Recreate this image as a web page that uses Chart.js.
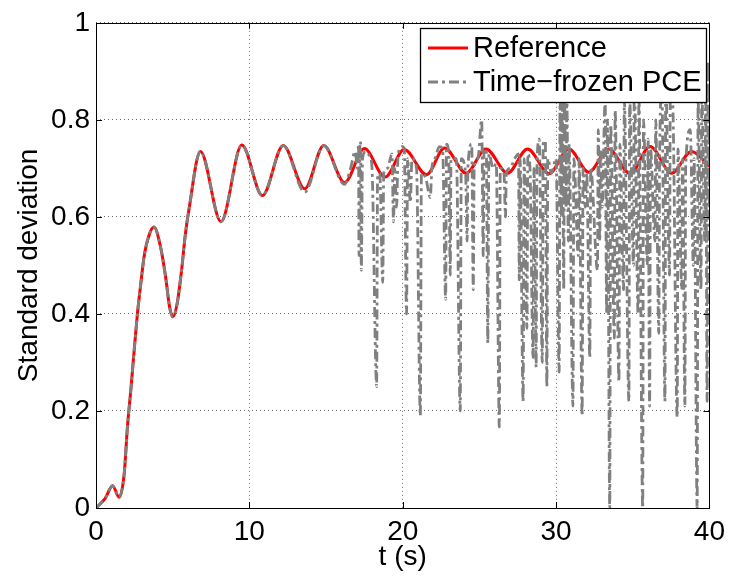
<!DOCTYPE html>
<html><head><meta charset="utf-8">
<script src="https://cdn.jsdelivr.net/npm/chart.js@4.4.0/dist/chart.umd.min.js"></script>
<style>html,body{margin:0;padding:0;background:#fff;}#wrap{width:732px;height:576px;}</style>
</head><body><div id="wrap"><canvas id="c" width="732" height="576"></canvas></div>
<script>
// ---- data ----
const xTickValues = [0, 10, 20, 30, 40];
const yTickValues = [0, 0.2, 0.4, 0.6, 0.8, 1];
const seriesNames = ['Reference', 'Time\u2212frozen PCE'];
const axisTitles = ['t (s)', 'Standard deviation'];

const refT = [0, 0.6, 1.08, 1.51, 1.84, 2.05, 2.27, 2.49, 2.70, 2.92, 3.13, 3.46, 3.78, 4.21, 4.54, 4.80, 5.01, 5.29, 5.58, 5.83, 6.05, 6.81, 8.15, 9.51, 10.85, 12.21, 13.61, 14.85, 16.21, 17.5, 18.85, 20.1, 21.55, 22.73, 24.14, 25.43, 26.84, 28.14, 29.54, 30.84, 32.13, 33.43, 34.83, 36.13, 37.54, 38.83, 40];
const refV = [0, 0.02, 0.046, 0.022, 0.071, 0.167, 0.243, 0.325, 0.40, 0.462, 0.517, 0.562, 0.579, 0.538, 0.476, 0.414, 0.394, 0.421, 0.49, 0.565, 0.613, 0.735, 0.59, 0.748, 0.644, 0.747, 0.658, 0.747, 0.671, 0.741, 0.682, 0.739, 0.687, 0.742, 0.69, 0.740, 0.69, 0.740, 0.689, 0.74, 0.692, 0.74, 0.689, 0.745, 0.69, 0.735, 0.704];

const pceT = [
  0, 0.6, 1.08, 1.51, 1.84, 2.05, 2.27, 2.49, 2.70, 2.92, 3.13, 3.46, 3.78, 4.21, 4.54, 4.80, 5.01, 5.29, 5.58, 5.83, 6.05, 6.81, 8.15, 9.51, 10.85, 12.21, 13.61, 14.85, 16.21,
  16.6, 16.9, 17.05, 17.12, 17.15, 17.2, 17.25, 17.3, 17.38, 17.6, 17.9, 18.0, 18.3, 18.36, 18.5, 18.7, 18.76, 19.0, 19.3, 19.4, 19.48, 19.6, 19.7, 20.0, 20.1, 20.25, 20.32, 20.5, 20.6,
  20.9, 21.15, 21.22, 21.5, 21.8, 21.9, 22.1, 22.4, 22.6, 22.8, 22.86, 23.0, 23.1, 23.15, 23.5, 23.75, 23.82, 24.1, 24.2, 24.25, 24.5, 24.6, 24.66, 24.9,
  25.15, 25.25, 25.3, 25.45, 25.55, 25.62, 25.9, 26.1, 26.3, 26.36, 26.6, 26.7, 26.76, 27.0, 27.3, 27.55, 27.6, 27.65, 27.85, 27.92, 28.1, 28.16, 28.3, 28.5, 28.56, 28.7, 28.75, 28.9, 29.1, 29.16, 29.3, 29.4, 29.46, 29.7,
  30.0, 30.2, 30.26, 30.35, 30.4, 30.5, 30.55, 30.65, 30.7, 30.8, 30.85, 31.1, 31.16, 31.45, 31.5, 31.7, 31.76, 31.9, 32.0, 32.2, 32.26, 32.7, 32.75, 32.85, 32.9, 33.0,
  33.2, 33.3, 33.35, 33.5, 33.56, 33.8, 33.85, 34.1, 34.16, 34.4, 34.45, 34.75, 34.8, 35.05, 35.1, 35.35, 35.4, 35.65, 35.7, 35.95, 36.0,
  36.1, 36.16, 36.45, 36.5, 36.7, 36.75, 36.9, 37.1, 37.15, 37.4, 37.45, 37.6, 37.9, 37.95, 38.2, 38.25, 38.4, 38.45, 38.75, 38.95, 39.0, 39.2, 39.26, 39.45, 39.5, 39.7, 39.75, 39.85, 39.92, 40
];
const pceV = [
  0, 0.02, 0.046, 0.022, 0.071, 0.167, 0.243, 0.325, 0.40, 0.462, 0.517, 0.562, 0.579, 0.538, 0.476, 0.414, 0.394, 0.421, 0.49, 0.565, 0.613, 0.735, 0.59, 0.748, 0.644, 0.747, 0.651, 0.747, 0.667,
  0.70, 0.735, 0.70, 0.75, 0.52, 0.74, 0.755, 0.49, 0.72, 0.735, 0.72, 0.70, 0.25, 0.68, 0.69, 0.465, 0.69, 0.70, 0.73, 0.59, 0.70, 0.62, 0.73, 0.745, 0.74, 0.40, 0.72, 0.63, 0.72,
  0.70, 0.19, 0.69, 0.68, 0.64, 0.70, 0.72, 0.745, 0.74, 0.43, 0.75, 0.73, 0.48, 0.72, 0.72, 0.20, 0.72, 0.69, 0.55, 0.70, 0.75, 0.45, 0.70, 0.72,
  0.80, 0.52, 0.74, 0.74, 0.34, 0.73, 0.70, 0.71, 0.167, 0.70, 0.69, 0.60, 0.69, 0.70, 0.72, 0.73, 0.47, 0.72, 0.22, 0.72, 0.37, 0.73, 0.70, 0.31, 0.70, 0.29, 0.70, 0.76, 0.30, 0.75, 0.757, 0.25, 0.72, 0.69,
  0.72, 0.28, 0.86, 0.60, 0.88, 0.45, 0.86, 0.62, 0.85, 0.55, 0.75, 0.21, 0.72, 0.52, 0.72, 0.19, 0.70, 0.62, 0.69, 0.31, 0.70, 0.49, 0.78, 0.55, 0.74, 0.62,
  0.84, 0.40, 0.80, 0.0, 0.79, 0.35, 0.82, 0.26, 0.75, 0.45, 0.84, 0.22, 0.84, 0.50, 0.88, 0.40, 0.85, 0.0, 0.80, 0.50, 0.76,
  0.21, 0.74, 0.55, 0.80, 0.36, 0.72, 0.86, 0.22, 0.88, 0.48, 0.86, 0.84, 0.187, 0.74, 0.45, 0.72, 0.21, 0.70, 0.78, 0.50, 0.72, 0.0, 0.84, 0.45, 0.86, 0.55, 0.88, 0.22, 0.92, 0.62
];

// ---- styling ----
const FONT = '"Liberation Sans", Arial, Helvetica, sans-serif';
const FSIZE = 28;
const LEGEND_FSIZE = 29;
const RED = '#ff0000';
const GRAY = '#808080';
const PCE_DASH = [10, 4, 3, 4];

const toXY = (ts, vs) => ts.map((t, i) => ({ x: t, y: vs[i] }));

const framePlugin = {
  id: 'frame',
  afterDatasetsDraw(chart) {
    const { ctx, chartArea: a, scales: { x, y } } = chart;
    ctx.save();
    ctx.strokeStyle = '#000';
    ctx.lineWidth = 1;
    ctx.setLineDash([]);
    ctx.strokeRect(Math.round(a.left) + 0.5, Math.round(a.top) + 0.5, Math.round(a.right - a.left), Math.round(a.bottom - a.top));
    const TL = 6;
    ctx.beginPath();
    xTickValues.forEach(v => {
      const px = Math.round(x.getPixelForValue(v)) + 0.5;
      ctx.moveTo(px, a.bottom); ctx.lineTo(px, a.bottom - TL);
      ctx.moveTo(px, a.top); ctx.lineTo(px, a.top + TL);
    });
    yTickValues.forEach(v => {
      const py = Math.round(y.getPixelForValue(v)) + 0.5;
      ctx.moveTo(a.left, py); ctx.lineTo(a.left + TL, py);
      ctx.moveTo(a.right, py); ctx.lineTo(a.right - TL, py);
    });
    ctx.stroke();
    // legend box
    const L = { x: 420, y: 28, w: 286, h: 74 };
    ctx.fillStyle = '#fff';
    ctx.fillRect(L.x, L.y, L.w, L.h);
    ctx.strokeStyle = '#000';
    ctx.lineWidth = 1.3;
    ctx.strokeRect(L.x + 0.5, L.y + 0.5, L.w, L.h);
    const rows = [
      { y: 48, color: RED, dash: [], width: 3 },
      { y: 82, color: GRAY, dash: PCE_DASH, width: 2.8 }
    ];
    rows.forEach((r, i) => {
      ctx.beginPath();
      ctx.strokeStyle = r.color;
      ctx.lineWidth = r.width;
      ctx.setLineDash(r.dash);
      ctx.moveTo(428, r.y); ctx.lineTo(468, r.y);
      ctx.stroke();
      ctx.setLineDash([]);
      ctx.fillStyle = '#000';
      ctx.font = LEGEND_FSIZE + 'px ' + FONT;
      ctx.textBaseline = 'middle';
      ctx.textAlign = 'left';
      ctx.fillText(seriesNames[i], 473, r.y + 1);
    });
    ctx.restore();
  }
};

new Chart(document.getElementById('c').getContext('2d'), {
  type: 'line',
  data: {
    datasets: [
      { label: seriesNames[0], data: toXY(refT, refV), borderColor: RED, backgroundColor: RED, borderWidth: 3,
        pointRadius: 0, cubicInterpolationMode: 'monotone', fill: false, order: 2 },
      { label: seriesNames[1], data: toXY(pceT, pceV), borderColor: GRAY, backgroundColor: GRAY, borderWidth: 2.8,
        borderDash: PCE_DASH, pointRadius: 0, cubicInterpolationMode: 'monotone', fill: false, order: 1 }
    ]
  },
  options: {
    responsive: false,
    animation: false,
    events: [],
    layout: { padding: { left: 0, right: 19, top: 22, bottom: 0 } },
    plugins: { legend: { display: false }, tooltip: { enabled: false } },
    scales: {
      x: {
        type: 'linear', min: 0, max: 40,
        afterBuildTicks: s => { s.ticks = xTickValues.map(v => ({ value: v })); },
        afterFit: s => { s.height = 68; },
        ticks: { font: { family: FONT, size: FSIZE }, color: '#000', padding: 7, maxRotation: 0, autoSkip: false,
                 callback: v => String(v) },
        grid: { color: 'rgb(110,110,110)', drawTicks: false, lineWidth: 1 },
        border: { display: false, dash: [1, 3] },
        title: { display: true, text: axisTitles[0], font: { family: FONT, size: FSIZE }, color: '#000', padding: { top: 0, bottom: 2 } }
      },
      y: {
        type: 'linear', min: 0, max: 1,
        afterBuildTicks: s => { s.ticks = yTickValues.map(v => ({ value: v })); },
        afterFit: s => { s.width = 96; },
        ticks: { font: { family: FONT, size: FSIZE }, color: '#000', padding: 6, autoSkip: false,
                 callback: v => String(Math.round(v * 10) / 10) },
        grid: { color: 'rgb(110,110,110)', drawTicks: false, lineWidth: 1 },
        border: { display: false, dash: [1, 3] },
        title: { display: true, text: axisTitles[1], font: { family: FONT, size: FSIZE }, color: '#000', padding: { top: 12, bottom: 0 } }
      }
    }
  },
  plugins: [framePlugin]
});
</script>
</body></html>
